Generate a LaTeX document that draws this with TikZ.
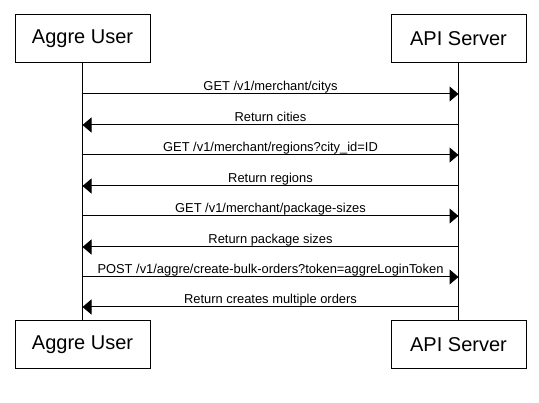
\documentclass[tikz,border=0pt]{standalone}
\usepackage{fontspec}
\setmainfont{Liberation Sans}
\usetikzlibrary{arrows.meta}
\begin{document}
\begin{tikzpicture}[x=1pt,y=-1pt,
  actor/.style={draw,line width=1pt,minimum width=135pt,minimum height=48pt,inner sep=0pt,font=\fontsize{20}{24}\selectfont},
  msg/.style={line width=1pt,-{Triangle[length=9pt,width=15pt]}},
  lbl/.style={font=\fontsize{12.9}{15}\selectfont,anchor=base,inner sep=0pt,yshift=3.5pt},
  life/.style={line width=1pt}]
\useasboundingbox (0,0) rectangle (539,403);
\node[actor] (ut) at (82.5,39) {Aggre User};
\node[actor] (st) at (458.5,39) {API Server};
\node[actor] (ub) at (82.5,345) {Aggre User};
\node[actor] (sb) at (458.5,345) {API Server};
\draw[life] (ut.south) -- (ub.north);
\draw[life] (st.south) -- (sb.north);
\foreach \y/\d/\t in {
  94/1/{GET /v1/merchant/citys},
  125/0/{Return cities},
  155/1/{GET /v1/merchant/regions?city\_id=ID},
  186/0/{Return regions},
  216/1/{GET /v1/merchant/package-sizes},
  247/0/{Return package sizes},
  277/1/{POST /v1/aggre/create-bulk-orders?token=aggreLoginToken},
  307/0/{Return creates multiple orders}}{
  \coordinate (u\y) at (ut.south |- 0,\y);
  \coordinate (s\y) at (st.south |- 0,\y);
  \ifnum\d=1
    \draw[msg] (u\y) -- node[lbl] {\t} (s\y);
  \else
    \draw[msg] (s\y) -- node[lbl] {\t} (u\y);
  \fi
}
\end{tikzpicture}
\end{document}
